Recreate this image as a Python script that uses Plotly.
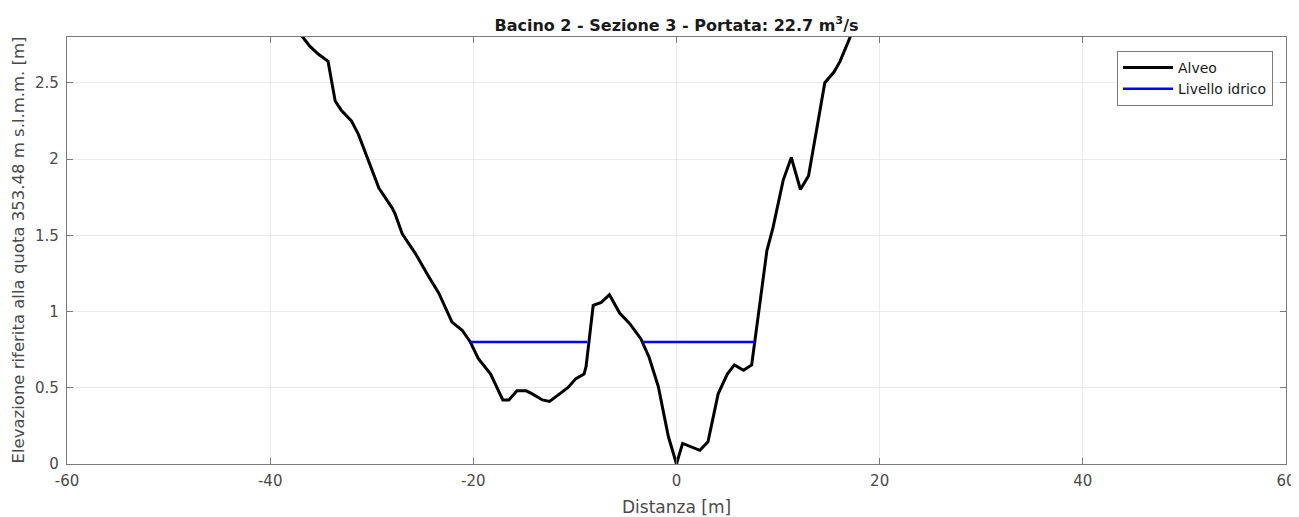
import plotly.graph_objects as go

# Cross-section bed profile (Alveo)
bed_x = [-37.2, -36.8, -36.1, -35.3, -34.3, -34.0, -33.6, -33.0, -32.0, -31.3, -30.3, -29.3,
         -28.0, -27.7, -27.0, -25.7, -24.4, -23.4, -22.1, -21.1, -20.3, -19.5, -18.3, -17.1,
         -16.5, -15.7, -14.8, -14.2, -13.2, -12.5, -11.7, -10.7, -9.9, -9.1, -8.9, -8.2,
         -7.4, -6.6, -5.6, -4.6, -3.5, -2.7, -1.8, -0.8, 0.0, 0.6, 2.3, 3.1, 4.1, 5.0,
         5.7, 6.6, 7.4, 7.7, 8.9, 9.5, 10.5, 11.3, 12.2, 13.0, 13.8, 14.6, 15.5, 16.1,
         17.1, 17.5]
bed_y = [2.84, 2.80, 2.74, 2.69, 2.64, 2.53, 2.38, 2.32, 2.25, 2.16, 1.99, 1.81,
         1.68, 1.64, 1.51, 1.38, 1.23, 1.12, 0.93, 0.877, 0.80, 0.69, 0.59, 0.42,
         0.42, 0.48, 0.48, 0.46, 0.42, 0.41, 0.45, 0.50, 0.56, 0.59, 0.64, 1.04,
         1.06, 1.11, 0.99, 0.92, 0.82, 0.70, 0.51, 0.18, 0.00, 0.135, 0.09, 0.146, 0.46, 0.59,
         0.65, 0.615, 0.65, 0.80, 1.40, 1.55, 1.86, 2.01, 1.80, 1.89, 2.21, 2.50, 2.57, 2.64,
         2.80, 2.86]

# Water level (Livello idrico) segments
water_x = [-20.3, -8.8, None, -3.4, 7.7]
water_y = [0.80, 0.80, None, 0.80, 0.80]

title_text = "Bacino 2 - Sezione 3 - Portata: 22.7 m<sup>3</sup>/s"
x_title = "Distanza [m]"
y_title = "Elevazione riferita alla quota 353.48 m s.l.m.m. [m]"
x_ticks = [-60, -40, -20, 0, 20, 40, 60]
y_ticks = [0, 0.5, 1, 1.5, 2, 2.5]
y_tick_labels = ["0", "0.5", "1", "1.5", "2", "2.5"]

FONT = "DejaVu Sans"

# page body offset (default 8px body margin); figure sized to fit the window
OFF = 8
W, H = 1299 - OFF, 517 - OFF
ML, MT = 67 - OFF, 37 - OFF
MR = W - (1286 - OFF)
MB = H - (464.5 - OFF)
plot_w = W - ML - MR
plot_h = H - MT - MB

fig = go.Figure()
fig.add_trace(go.Scatter(x=bed_x, y=bed_y, mode="lines", name="Alveo", legendgroup="a",
                         line=dict(color="black", width=3)))
fig.add_trace(go.Scatter(x=water_x, y=water_y, mode="lines", name="Livello idrico", legendgroup="b",
                         line=dict(color="#0000ff", width=2.5), connectgaps=False))

axis_common = dict(showline=True, linecolor="#7a7a7a", linewidth=1.3, mirror="ticks",
                   showgrid=True, gridcolor="#ebebeb", gridwidth=1,
                   ticks="inside", ticklen=6, tickcolor="#7a7a7a", zeroline=False,
                   automargin=False,
                   tickfont=dict(family=FONT, size=15, color="#4a4a4a"))

# legend box target (page px): right 1273, top 51
leg_x = (1273 - OFF - ML) / plot_w
leg_y = (H - MB - (51 - OFF)) / plot_h

fig.update_layout(
    width=W, height=H,
    paper_bgcolor="white", plot_bgcolor="white",
    margin=dict(l=ML, r=MR, t=MT, b=MB),
    title=dict(text=title_text, x=0.5, xanchor="center", xref="paper",
               y=1, yref="paper", yanchor="bottom", pad=dict(b=6),
               font=dict(family=FONT, size=16, color="#1a1a1a", weight="bold")),
    xaxis=dict(range=[-60, 60], tickvals=x_ticks, ticktext=[str(v) for v in x_ticks],
               ticklabelstandoff=3, **axis_common),
    yaxis=dict(range=[0, 2.8], tickvals=y_ticks, ticktext=y_tick_labels,
               ticklabelstandoff=4, **axis_common),
    legend=dict(x=leg_x, y=leg_y, xanchor="right", yanchor="top",
                bgcolor="white", bordercolor="#7a7a7a", borderwidth=1,
                font=dict(family=FONT, size=14, color="#1a1a1a"),
                traceorder="grouped", tracegroupgap=0, itemwidth=50),
    showlegend=True,
    annotations=[
        dict(text=x_title, x=0.5, xref="paper",
             y=(H - MB - (508 - OFF)) / plot_h, yref="paper", showarrow=False,
             font=dict(family=FONT, size=17, color="#4a4a4a"), xanchor="center", yanchor="middle"),
        dict(text=y_title, x=((18 - OFF) - ML) / plot_w, xref="paper", y=0.5, yref="paper",
             showarrow=False, textangle=-90,
             font=dict(family=FONT, size=16.5, color="#4a4a4a"), xanchor="center", yanchor="middle"),
    ],
)

fig.write_html("out.html")
